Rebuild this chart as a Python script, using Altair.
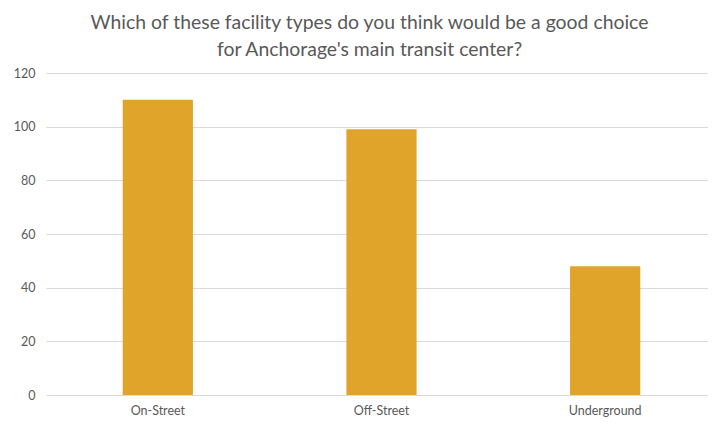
import altair as alt
import pandas as pd

categories = ["On-Street", "Off-Street", "Underground"]
values = [110, 99, 48]

df = pd.DataFrame({"type": categories, "count": values})

title_lines = ["Which of these facility types do you think would be a good choice",
               "for Anchorage's main transit center?"]

chart = alt.Chart(df).mark_bar(color="#E0A42B").encode(
    x=alt.X("type:N", sort=categories, title=None,
            scale=alt.Scale(paddingInner=0.686, paddingOuter=0.343, range=[1, 672]),
            axis=alt.Axis(labelAngle=0, ticks=False, domain=False, labelPadding=9,
                          labelFontSize=12.5, labelColor="#595959", labelFont="Lato")),
    y=alt.Y("count:Q", title=None,
            scale=alt.Scale(domain=[0, 120]),
            axis=alt.Axis(values=[0, 20, 40, 60, 80, 100, 120], ticks=False, domain=False,
                          labelPadding=10, gridColor="#D9D9D9", gridWidth=1,
                          labelFontSize=12.5, labelColor="#595959", labelFont="Lato")),
).properties(
    width=663,
    height=322,
    title=alt.TitleParams(text=title_lines, fontSize=19.4, font="Lato", fontWeight="normal",
                          color="#595959", anchor="middle", lineHeight=27, offset=7, dx=-7),
    padding={"left": 37, "top": 65, "right": 0, "bottom": 23},
    autosize=alt.AutoSizeParams(type="none"),
).configure_view(stroke=None)

chart.save("out.html", embed_options={"renderer": "svg", "actions": False})
